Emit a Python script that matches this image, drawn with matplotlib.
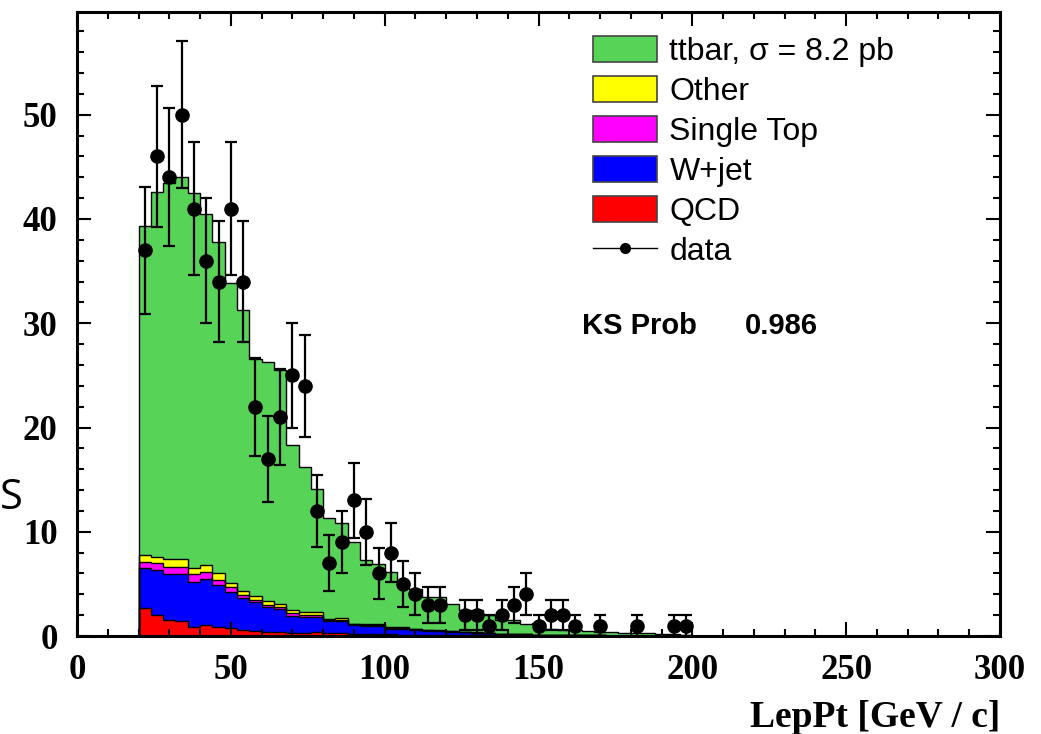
import numpy as np
import matplotlib
matplotlib.use('Agg')
import matplotlib.pyplot as plt
from matplotlib.patches import Patch
from matplotlib.lines import Line2D
from matplotlib.ticker import MultipleLocator

# bins of 4 GeV from 20 to 200
edges = np.arange(20, 204, 4)

# MC components per bin
qcd = [2.7, 2.0, 1.5, 1.4, 0.9, 1.05, 0.9, 0.8, 0.6, 0.5, 0.4, 0.35, 0.3, 0.3, 0.35,
       0.25, 0.3, 0.2, 0.2, 0.15, 0.2, 0.1, 0.1, 0.1, 0.05, 0.05, 0.05, 0.05, 0.03, 0.03,
       0.03, 0.02, 0.02, 0.02, 0.01, 0.01, 0.01, 0.01, 0, 0, 0, 0, 0, 0, 0]
wjet = [3.8, 4.3, 4.45, 4.55, 4.3, 4.45, 4.0, 3.4, 3.0, 2.8, 2.4, 2.25, 1.6, 1.55, 1.5,
        1.15, 1.1, 0.85, 0.8, 0.85, 0.5, 0.6, 0.5, 0.4, 0.4, 0.35, 0.3, 0.25, 0.22, 0.17,
        0.17, 0.13, 0.08, 0.08, 0.04, 0.04, 0.04, 0.04, 0.03, 0.03, 0.02, 0.02, 0.02, 0.01, 0.01]
single_top = [0.6, 0.7, 0.65, 0.65, 0.75, 0.6, 0.5, 0.5, 0.3, 0.2, 0.2, 0.2, 0.3, 0.2, 0.2,
              0.1, 0.15, 0.1, 0.1, 0.1, 0.1, 0.1, 0.05, 0.05, 0.05, 0.05, 0.03, 0.03, 0.03, 0.02,
              0.02, 0.02, 0.01, 0.01, 0.01, 0.01, 0.01, 0, 0, 0, 0, 0, 0, 0, 0]
other = [0.7, 0.6, 0.8, 0.8, 0.55, 0.7, 0.6, 0.4, 0.4, 0.3, 0.4, 0.3, 0.3, 0.25, 0.25,
         0.1, 0.15, 0.05, 0.1, 0.1, 0.1, 0.05, 0.05, 0.05, 0.05, 0.03, 0.03, 0.03, 0.02, 0.02,
         0.02, 0.01, 0.01, 0.01, 0.01, 0.01, 0, 0, 0, 0, 0, 0, 0, 0, 0]
ttbar = [31.5, 35.0, 36.1, 36.6, 36.0, 33.7, 31.8, 28.8, 27.0, 22.8, 22.9, 22.4, 15.8, 13.9, 11.8,
         9.7, 9.1, 7.8, 6.1, 5.7, 5.2, 4.45, 3.8, 3.1, 3.15, 2.6, 2.1, 2.15, 1.7, 1.25,
         1.25, 1.0, 1.1, 0.6, 0.55, 0.55, 0.45, 0.35, 0.35, 0.25, 0.25, 0.25, 0.2, 0.15, 0.1]

# observed data (events per bin)
data = [37, 46, 44, 50, 41, 36, 34, 41, 34, 22, 17, 21, 25, 24, 12,
        7, 9, 13, 10, 6, 8, 5, 4, 3, 3, 0, 2, 2, 1, 2,
        3, 4, 1, 2, 2, 1, 0, 1, 0, 0, 1, 0, 0, 1, 1]

labels = ['ttbar, σ = 8.2 pb', 'Other', 'Single Top', 'W+jet', 'QCD', 'data']
colors = ['#57d357', '#ffff00', '#ff00ff', '#0000ff', '#ff0000']

fig = plt.figure(figsize=(10.41, 7.34), dpi=100)
ax = fig.add_axes([0.074, 0.1335, 0.8866, 0.8508])

# stack from bottom: qcd, wjet, single top, other, ttbar
layers = [qcd, wjet, single_top, other, ttbar]
cum = np.cumsum(np.array(layers), axis=0)
for vals, c in zip(cum[::-1], colors):
    ax.stairs(vals, edges, fill=True, color=c, zorder=1)
    ax.stairs(vals, edges, color='black', lw=1.0, zorder=2)

centers = (edges[:-1] + edges[1:]) / 2
d = np.array(data, dtype=float)
m = d > 0
ax.errorbar(centers[m], d[m], yerr=np.sqrt(d[m]), fmt='o', color='black',
            markersize=9.5, elinewidth=1.6, capsize=4, capthick=1.6, zorder=5)

ax.set_xlim(0, 300)
ax.set_ylim(0, 59.9)
ax.xaxis.set_major_locator(MultipleLocator(50))
ax.xaxis.set_minor_locator(MultipleLocator(10))
ax.yaxis.set_major_locator(MultipleLocator(10))
ax.yaxis.set_minor_locator(MultipleLocator(2))
ax.tick_params(which='both', direction='in', top=True, right=True, width=1.5)
ax.tick_params(which='major', length=10)
ax.tick_params(which='minor', length=5)
ax.tick_params(axis='x', pad=13)
ax.tick_params(axis='y', pad=14)
for s in ax.spines.values():
    s.set_linewidth(2.2)
for lab in ax.get_xticklabels() + ax.get_yticklabels():
    lab.set_fontfamily('Liberation Serif')
    lab.set_fontweight('bold')
    lab.set_fontsize(25)

ax.set_xlabel('LepPt [GeV / c]', fontsize=27, fontweight='bold',
              family='Liberation Serif', loc='right', labelpad=9)

handles = [Patch(facecolor=c, edgecolor='#444444', lw=1.2) for c in colors]
handles.append(Line2D([], [], color='black', lw=1, marker='o', markersize=7))
leg = ax.legend(handles, labels, loc='upper left', bbox_to_anchor=(0.545, 0.982),
                frameon=False, prop={'family': 'Liberation Sans', 'size': 23},
                handlelength=2.0, handleheight=0.88, labelspacing=0.28,
                handletextpad=0.4, borderaxespad=0)

ax.text(0.547, 29.7, 'KS Prob', transform=ax.get_yaxis_transform(),
        fontsize=21, fontweight='bold', family='Liberation Sans', va='center')
ax.text(0.7237, 29.7, '0.986', transform=ax.get_yaxis_transform(),
        fontsize=21, fontweight='bold', family='Liberation Sans', va='center')

fig.text(0.0, 1 - 498 / 734, 'S', fontsize=30, family='Open Sans', va='center')

fig.savefig('out.png', dpi=100)
